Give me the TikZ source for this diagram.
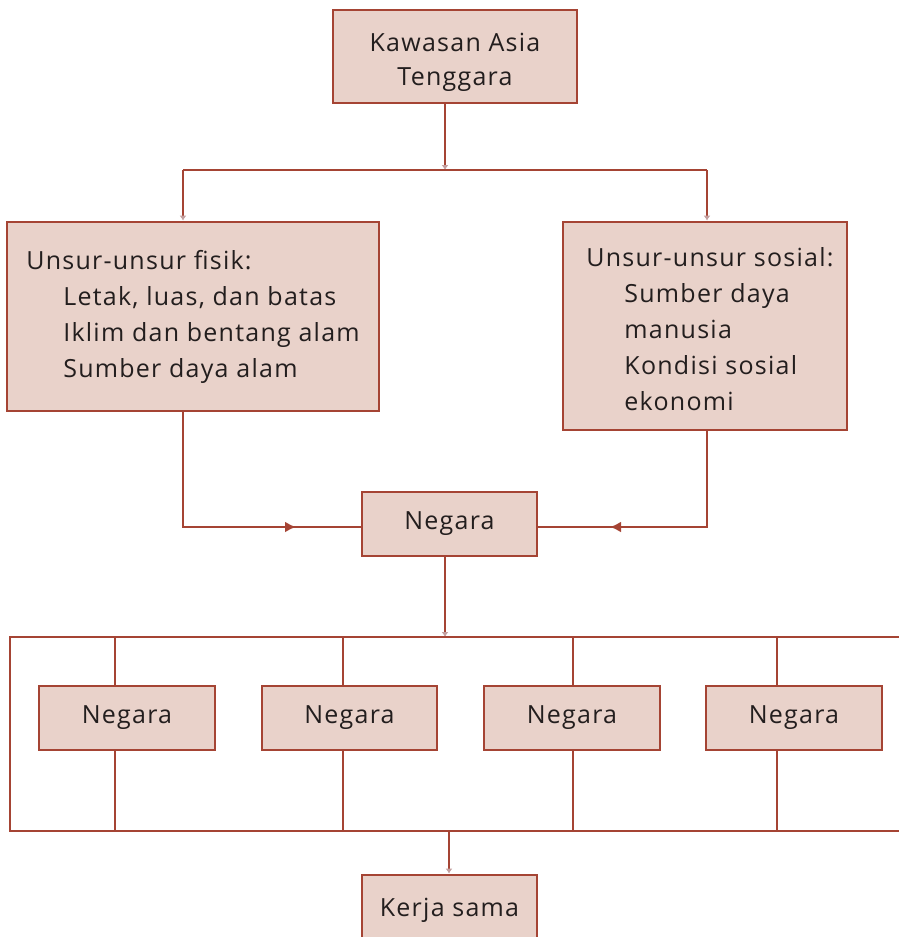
\documentclass[tikz,border=0pt]{standalone}
\usepackage{fontspec}
\setmainfont[LetterSpace=5]{Open Sans}
\usetikzlibrary{arrows.meta, positioning}
\definecolor{mybrown}{RGB}{165,68,52}
\definecolor{mypink}{RGB}{233,210,202}
\definecolor{mytext}{RGB}{35,30,30}
\definecolor{myfaint}{RGB}{195,160,160}
\tikzset{
  box/.style={rectangle, draw=mybrown, fill=mypink, line width=2.8pt,
    text=mytext, font=\fontsize{25}{36}\selectfont, align=center, inner sep=0pt},
  link/.style={draw=mybrown, line width=2.8pt},
  tiparrow/.style={link, -{Latex[length=5pt,width=7pt,color=myfaint]}},
  midarrow/.style={link, -{Latex[length=11pt,width=11pt]}}
}
\begin{document}
\begin{tikzpicture}[x=1pt, y=-1pt]
  \useasboundingbox (0,0) rectangle (899,937);

  \node[box, minimum width=244, minimum height=93, font=\fontsize{25}{34}\selectfont] (top) at (455,56.5) {\rule{0pt}{31pt}Kawasan Asia\\Tenggara};
  \node[box, minimum width=372, minimum height=189, align=left] (fisik) at (193,316.5)
    {Unsur-unsur fisik:\\\hspace*{37pt}Letak, luas, dan batas\\\hspace*{37pt}Iklim dan bentang alam\\\hspace*{37pt}Sumber daya alam};
  \node[box, minimum width=284, minimum height=208, align=left] (sosial) at (705,326)
    {\hspace*{10pt}\rule{0pt}{26pt}Unsur-unsur sosial:\\\hspace*{48pt}Sumber daya\\\hspace*{48pt}manusia\\\hspace*{48pt}Kondisi sosial\\\hspace*{48pt}ekonomi};
  \node[box, minimum width=175, minimum height=64] (negara) at (449.5,524) {Negara};
  \node[box, minimum width=176, minimum height=64] (n1) at (127,718) {Negara};
  \node[box, minimum width=175, minimum height=64] (n2) at (349.5,718) {Negara};
  \node[box, minimum width=176, minimum height=64] (n3) at (572,718) {Negara};
  \node[box, minimum width=176, minimum height=64] (n4) at (794,718) {Negara};
  \node[box, minimum width=175, minimum height=70] (kerja) at (449.5,910) {Kerja sama};

  % cabang atas
  \coordinate (j1) at (445,170);
  \coordinate (jl) at (183,170);
  \coordinate (jr) at (707,170);
  \draw[tiparrow] (top.south -| j1) -- (j1);
  \draw[link] (jl) -- (jr);
  \draw[tiparrow] (jl) -- (fisik.north -| jl);
  \draw[tiparrow] (jr) -- (sosial.north -| jr);

  % menuju negara
  \coordinate (ml) at (296,527);
  \coordinate (mr) at (610,527);
  \draw[link] (fisik.south -| jl) |- (negara.west |- ml);
  \draw[midarrow] (jl |- ml) -- (ml);
  \draw[link] (sosial.south -| jr) |- (negara.east |- mr);
  \draw[midarrow] (jr |- mr) -- (mr);

  % bingkai bawah
  \coordinate (jb) at (445,637);
  \draw[tiparrow] (negara.south -| jb) -- (jb);
  \coordinate (ftr) at (905,637);
  \coordinate (ftl) at (10,637);
  \coordinate (fbl) at (10,831);
  \coordinate (fbr) at (905,831);
  \draw[link] (ftr) -- (ftl) -- (fbl) -- (fbr);
  \foreach \i/\x in {1/115, 2/343, 3/573, 4/777} {
    \coordinate (t\i) at (\x,637);
    \coordinate (b\i) at (\x,831);
    \draw[link] (t\i) -- (n\i.north -| t\i);
    \draw[link] (n\i.south -| b\i) -- (b\i);
  }

  \coordinate (jk) at (449,831);
  \draw[tiparrow] (jk) -- (kerja.north -| jk);
\end{tikzpicture}
\end{document}
